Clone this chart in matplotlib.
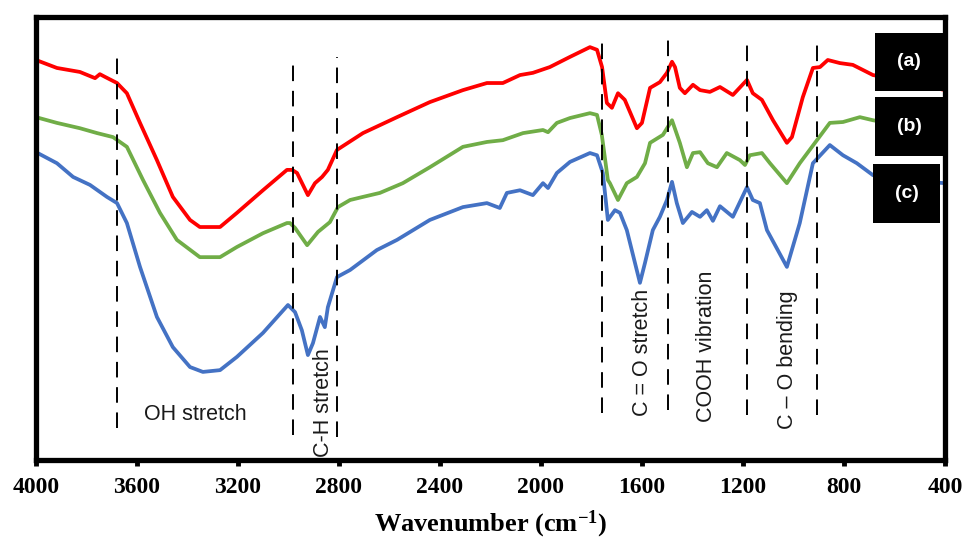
import matplotlib
matplotlib.use('Agg')
import matplotlib.pyplot as plt
from matplotlib.patches import Rectangle

# ---- FTIR spectra (wavenumber cm-1, transmittance a.u.) ----
wn_a = [4000, 3917, 3826, 3766, 3747, 3727, 3679, 3640, 3588, 3521, 3458, 3390, 3351, 3271,
        3204, 3101, 3006, 2986, 2966, 2923, 2895, 2867, 2844, 2808, 2705, 2570, 2440, 2309,
        2214, 2151, 2083, 2032, 1965, 1885, 1806, 1778, 1758, 1739, 1719, 1695, 1668, 1620,
        1600, 1568, 1529, 1501, 1481, 1469, 1450, 1430, 1398, 1370, 1331, 1291, 1240, 1184,
        1161, 1125, 1081, 1026, 1006, 963, 923, 895, 864, 816, 765, 685, 579, 400]
t_a = [90.3, 88.5, 87.6, 86.2, 87.1, 86.5, 85.1, 82.8, 76.1, 67.7, 59.4, 54.2, 52.6, 52.6,
       55.8, 60.9, 65.5, 65.5, 64.8, 59.8, 62.5, 63.9, 65.5, 70.0, 73.8, 77.4, 80.8, 83.5,
       85.1, 85.1, 86.9, 87.4, 88.7, 91.0, 93.2, 92.6, 88.7, 80.6, 79.5, 82.8, 81.3, 74.9,
       76.1, 84.0, 85.3, 87.4, 89.9, 88.7, 84.0, 82.8, 84.7, 83.5, 83.1, 84.2, 82.4, 85.8,
       82.8, 81.3, 76.7, 71.6, 72.9, 81.9, 88.5, 88.7, 90.3, 89.6, 89.2, 86.9, 85.8, 83.5]

wn_b = [4000, 3917, 3826, 3758, 3695, 3640, 3576, 3509, 3442, 3351, 3271, 3204, 3101, 3006,
        2994, 2974, 2926, 2883, 2836, 2804, 2756, 2705, 2638, 2547, 2440, 2309, 2214, 2151,
        2071, 1992, 1972, 1937, 1885, 1806, 1778, 1759, 1735, 1727, 1695, 1660, 1620, 1588,
        1568, 1517, 1481, 1450, 1422, 1398, 1370, 1339, 1303, 1264, 1212, 1192, 1173, 1125,
        1093, 1026, 975, 907, 856, 804, 737, 685, 579, 400]
t_b = [77.4, 76.1, 74.9, 73.8, 72.9, 70.7, 63.2, 55.8, 49.7, 45.8, 45.8, 48.1, 51.2, 53.5,
       53.5, 52.4, 48.5, 51.5, 53.7, 57.1, 58.7, 59.4, 60.3, 62.5, 66.1, 70.7, 71.8, 72.2,
       73.8, 74.5, 74.0, 76.1, 77.2, 78.3, 77.9, 73.4, 63.2, 62.5, 58.7, 62.5, 63.9, 67.0,
       71.6, 73.4, 76.7, 71.6, 66.1, 69.3, 69.5, 67.0, 66.1, 69.3, 67.7, 66.6, 68.8, 69.3,
       67.0, 62.5, 67.0, 72.2, 76.1, 76.3, 77.4, 76.7, 75.6, 74.5]

wn_c = [4000, 3917, 3853, 3786, 3719, 3679, 3640, 3588, 3521, 3458, 3390, 3339, 3271, 3204,
        3101, 3002, 2974, 2947, 2923, 2903, 2875, 2856, 2844, 2808, 2756, 2650, 2570, 2440,
        2309, 2214, 2163, 2135, 2083, 2032, 1992, 1972, 1937, 1885, 1806, 1778, 1755, 1735,
        1707, 1687, 1660, 1608, 1588, 1557, 1529, 1501, 1481, 1462, 1438, 1402, 1370, 1343,
        1319, 1291, 1240, 1184, 1161, 1133, 1105, 1026, 975, 923, 856, 804, 749, 685, 579, 400]
t_c = [69.5, 67.0, 63.9, 62.1, 59.4, 58.0, 53.5, 43.6, 32.3, 25.5, 21.0, 19.9, 20.3, 23.3,
       28.7, 35.0, 33.4, 29.3, 23.7, 26.4, 32.3, 30.0, 34.5, 41.3, 42.9, 47.4, 49.7, 54.2,
       57.1, 58.0, 56.9, 60.3, 60.9, 59.8, 62.5, 61.4, 64.8, 67.3, 69.3, 68.8, 64.8, 54.2,
       56.4, 55.8, 51.9, 40.0, 44.5, 51.9, 54.9, 58.7, 62.8, 58.0, 53.5, 56.0, 54.9, 56.4,
       54.0, 57.3, 54.9, 61.6, 58.7, 58.0, 51.9, 43.6, 53.5, 67.0, 71.1, 68.8, 67.0, 64.3,
       63.2, 62.5]

# dashed band markers: (wavenumber, bottom, top)
band_lines = [(3680, 7.2, 92.1), (2982, 5.6, 90.7), (2808, 5.2, 91.0), (1759, 10.6, 95.3),
              (1497, 11.3, 95.9), (1184, 10.2, 94.8), (907, 10.2, 95.3)]

# band labels: (text, wavenumber, y, rotation)
band_labels = [('OH stretch', 3370, 10.2, 0), ('C-H stretch', 2863, 12.9, 90),
               ('C = O stretch', 1596, 24.4, 90), ('COOH vibration', 1343, 25.7, 90),
               ('C \u2013 O bending', 1022, 22.6, 90)]

sample_tags = ['(a)', '(b)', '(c)']

plt.rcParams['mathtext.fontset'] = 'custom'
plt.rcParams['mathtext.rm'] = 'Liberation Serif:bold'
plt.rcParams['mathtext.it'] = 'Liberation Serif:bold'
plt.rcParams['mathtext.bf'] = 'Liberation Serif:bold'

fig = plt.figure(figsize=(9.67, 5.4), dpi=100)
ax = fig.add_axes([0.0372, 0.148, 0.94, 0.8205])

ax.plot(wn_a, t_a, color='#FF0000', lw=2.7, solid_joinstyle='round')
ax.plot(wn_b, t_b, color='#70AD47', lw=2.7, solid_joinstyle='round')
ax.plot(wn_c, t_c, color='#4472C4', lw=2.7, solid_joinstyle='round')

for x, y0, y1 in band_lines:
    ax.plot([x, x], [y0, y1], color='black', lw=1.4, ls=(0, (8, 5)))

for txt, x, y, rot in band_labels:
    ax.text(x, y, txt, rotation=rot, ha='center', va='center', fontsize=15.5,
            family='Liberation Sans', color='#1a1a1a')

# black tag boxes on the right
boxes = [(0.923, 0.833, 0.075, 0.131), (0.923, 0.686, 0.075, 0.133), (0.921, 0.535, 0.074, 0.133)]
for (bx, by, bw, bh), tag in zip(boxes, sample_tags):
    ax.add_patch(Rectangle((bx, by), bw, bh, transform=ax.transAxes, facecolor='black',
                           edgecolor='none', zorder=5))
    ax.text(bx + bw / 2, by + bh / 2, tag, transform=ax.transAxes, ha='center', va='center',
            color='white', fontsize=14, fontweight='bold', family='Liberation Sans', zorder=6)

ax.set_xlim(4000, 400)
ax.set_ylim(0, 100)
ax.set_xticks(range(4000, 399, -400))
ax.set_yticks([])
for s in ax.spines.values():
    s.set_linewidth(3.8)
ax.tick_params(axis='x', direction='out', length=4, width=3.5, pad=8)
for lab in ax.get_xticklabels():
    lab.set_fontfamily('Liberation Serif')
    lab.set_fontweight('bold')
    lab.set_fontsize(17)

ax.set_xlabel(r'Wavenumber (cm$^{\mathregular{-1}}$)', fontsize=19, fontweight='bold',
              family='Liberation Serif', labelpad=8)

fig.savefig('out.png', dpi=100)
